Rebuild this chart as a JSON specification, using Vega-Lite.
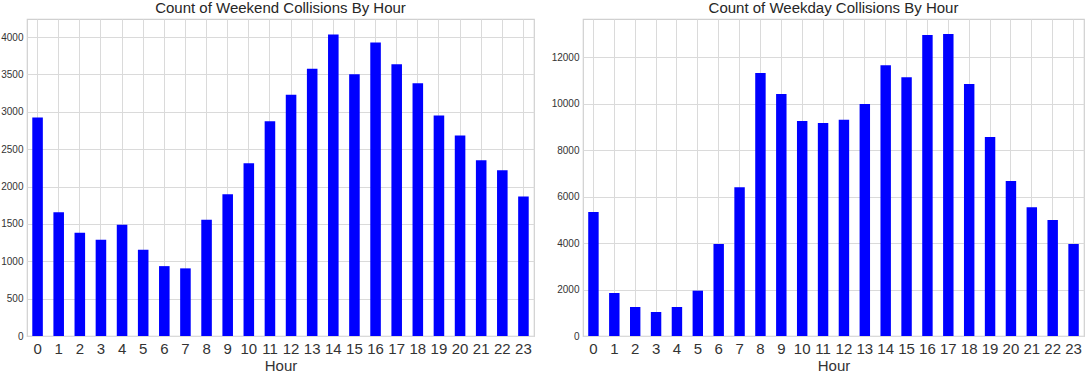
{
  "$schema": "https://vega.github.io/schema/vega-lite/v6.json",
  "padding": {"left": 0, "top": 0, "right": 0, "bottom": 0},
  "background": "white",
  "spacing": 15,
  "config": {
    "font": "Liberation Sans",
    "view": {"stroke": "#d0d0d0", "strokeWidth": 1.2},
    "axis": {"gridColor": "#dadada", "gridWidth": 1, "domain": false, "ticks": false, "labelColor": "#333333", "titleColor": "#333333", "titleFontWeight": "normal", "titleFont": "Liberation Sans", "labelFont": "Liberation Sans"},
    "title": {"fontSize": 15, "fontWeight": "normal", "color": "#262626", "offset": 3, "font": "Liberation Sans"}
  },
  "datasets": {
    "weekend": [
      {"Hour": 0, "Count": 2923}, {"Hour": 1, "Count": 1657}, {"Hour": 2, "Count": 1381}, {"Hour": 3, "Count": 1288},
      {"Hour": 4, "Count": 1488}, {"Hour": 5, "Count": 1154}, {"Hour": 6, "Count": 935}, {"Hour": 7, "Count": 905},
      {"Hour": 8, "Count": 1555}, {"Hour": 9, "Count": 1898}, {"Hour": 10, "Count": 2312}, {"Hour": 11, "Count": 2873},
      {"Hour": 12, "Count": 3230}, {"Hour": 13, "Count": 3577}, {"Hour": 14, "Count": 4036}, {"Hour": 15, "Count": 3501},
      {"Hour": 16, "Count": 3929}, {"Hour": 17, "Count": 3635}, {"Hour": 18, "Count": 3381}, {"Hour": 19, "Count": 2949},
      {"Hour": 20, "Count": 2682}, {"Hour": 21, "Count": 2352}, {"Hour": 22, "Count": 2218}, {"Hour": 23, "Count": 1867}
    ],
    "weekday": [
      {"Hour": 0, "Count": 5340}, {"Hour": 1, "Count": 1852}, {"Hour": 2, "Count": 1249}, {"Hour": 3, "Count": 1034},
      {"Hour": 4, "Count": 1249}, {"Hour": 5, "Count": 1952}, {"Hour": 6, "Count": 3962}, {"Hour": 7, "Count": 6404},
      {"Hour": 8, "Count": 11326}, {"Hour": 9, "Count": 10422}, {"Hour": 10, "Count": 9259}, {"Hour": 11, "Count": 9173},
      {"Hour": 12, "Count": 9316}, {"Hour": 13, "Count": 9991}, {"Hour": 14, "Count": 11658}, {"Hour": 15, "Count": 11141},
      {"Hour": 16, "Count": 12963}, {"Hour": 17, "Count": 13006}, {"Hour": 18, "Count": 10853}, {"Hour": 19, "Count": 8570},
      {"Hour": 20, "Count": 6675}, {"Hour": 21, "Count": 5541}, {"Hour": 22, "Count": 4996}, {"Hour": 23, "Count": 3962}
    ]
  },
  "hconcat": [
    {
      "title": "Count of Weekend Collisions By Hour",
      "width": 507,
      "height": 317,
      "data": {"name": "weekend"},
      "mark": {"type": "bar", "color": "#0000ff"},
      "encoding": {
        "x": {"field": "Hour", "type": "ordinal", "sort": "ascending",
              "scale": {"paddingInner": 0.5, "paddingOuter": 0.25},
              "axis": {"labelAngle": 0, "labelFontSize": 15, "labelPadding": 5, "titleFontSize": 15, "titlePadding": 2, "grid": true, "bandPosition": 0.5}},
        "y": {"field": "Count", "type": "quantitative",
              "scale": {"domain": [0, 4242], "nice": false},
              "axis": {"title": null, "format": "d", "values": [0, 500, 1000, 1500, 2000, 2500, 3000, 3500, 4000], "labelFontSize": 10, "labelPadding": 4}}
      }
    },
    {
      "title": "Count of Weekday Collisions By Hour",
      "width": 501,
      "height": 317,
      "data": {"name": "weekday"},
      "mark": {"type": "bar", "color": "#0000ff"},
      "encoding": {
        "x": {"field": "Hour", "type": "ordinal", "sort": "ascending",
              "scale": {"paddingInner": 0.5, "paddingOuter": 0.25},
              "axis": {"labelAngle": 0, "labelFontSize": 15, "labelPadding": 5, "titleFontSize": 15, "titlePadding": 2, "grid": true, "bandPosition": 0.5}},
        "y": {"field": "Count", "type": "quantitative",
              "scale": {"domain": [0, 13650], "nice": false},
              "axis": {"title": null, "format": "d", "values": [0, 2000, 4000, 6000, 8000, 10000, 12000], "labelFontSize": 10, "labelPadding": 4}}
      }
    }
  ]
}
